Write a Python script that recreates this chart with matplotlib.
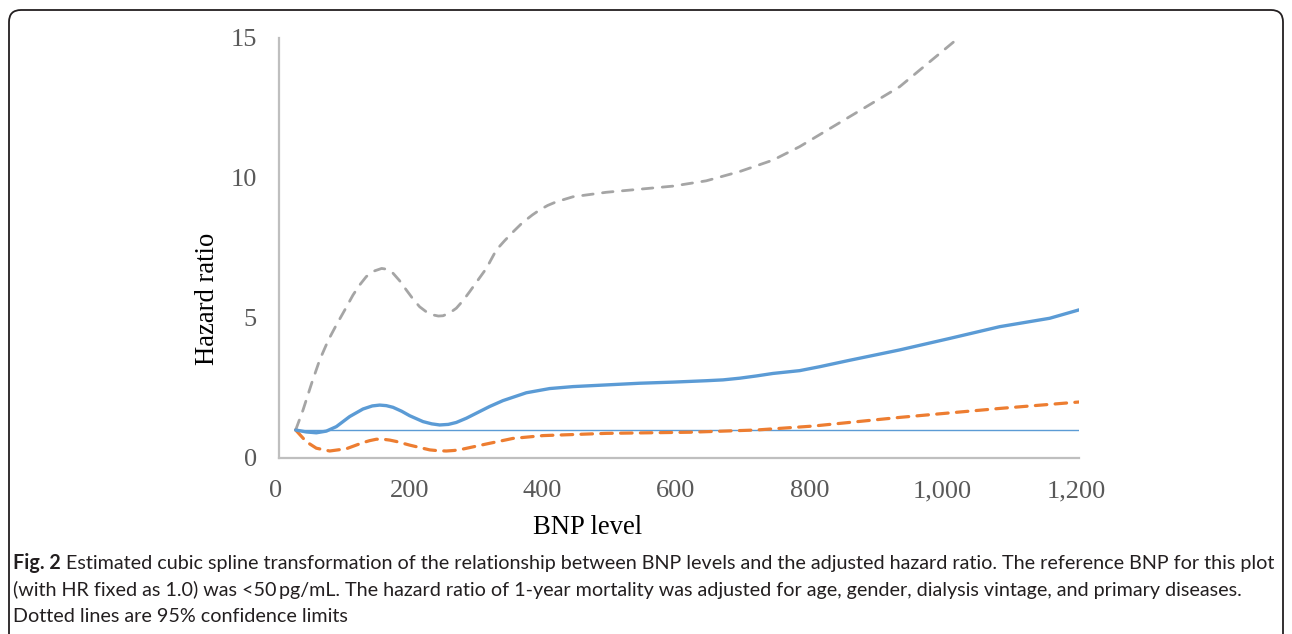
import matplotlib
matplotlib.use("Agg")
import matplotlib.pyplot as plt
from matplotlib.patches import FancyBboxPatch
from matplotlib.transforms import ScaledTranslation

# BNP level (pg/mL) and hazard ratio for the fitted spline
hr_x = [25, 41, 56, 71, 86, 106, 126, 140, 151, 161, 171, 184, 196, 216,
        229, 241, 254, 266, 281, 296, 316, 336, 371, 406, 441, 491, 541,
        591, 641, 666, 691, 716, 741, 781, 811, 856, 931, 1006, 1081,
        1156, 1200]
hr_y = [1.00, 0.93, 0.90, 0.96, 1.12, 1.48, 1.75, 1.86, 1.89, 1.87, 1.81,
        1.67, 1.51, 1.30, 1.22, 1.18, 1.20, 1.27, 1.42, 1.60, 1.84, 2.05,
        2.33, 2.48, 2.55, 2.61, 2.67, 2.71, 2.76, 2.79, 2.85, 2.93, 3.02,
        3.12, 3.26, 3.49, 3.86, 4.27, 4.69, 4.99, 5.29]

# upper 95% confidence limit
upper_x = [25, 36, 49, 61, 74, 86, 99, 111, 121, 131, 143, 154, 162, 171,
           181, 191, 201, 211, 221, 231, 239, 246, 256, 266, 276, 286, 298,
           311, 326, 338, 350, 365, 380, 391, 403, 416, 441, 491, 541, 591,
           641, 691, 741, 781, 856, 931, 1014, 1040]
upper_y = [1.00, 1.71, 2.67, 3.50, 4.21, 4.75, 5.30, 5.82, 6.18, 6.48, 6.68,
           6.77, 6.74, 6.60, 6.33, 6.00, 5.68, 5.40, 5.22, 5.11, 5.07, 5.08,
           5.18, 5.35, 5.62, 5.94, 6.34, 6.77, 7.43, 7.75, 8.05, 8.40, 8.68,
           8.86, 9.02, 9.15, 9.33, 9.49, 9.60, 9.71, 9.90, 10.23, 10.64,
           11.12, 12.19, 13.26, 14.90, 15.40]

# lower 95% confidence limit
lower_x = [25, 41, 56, 76, 101, 126, 136, 146, 156, 166, 176, 196, 226,
           239, 251, 263, 276, 311, 351, 396, 491, 616, 716, 801, 931, 1081,
           1200]
lower_y = [1.00, 0.58, 0.35, 0.25, 0.33, 0.55, 0.62, 0.67, 0.67, 0.64, 0.59,
           0.46, 0.29, 0.26, 0.25, 0.27, 0.32, 0.50, 0.70, 0.80, 0.88, 0.92,
           1.00, 1.14, 1.45, 1.77, 2.00]

# reference line at HR = 1.0
ref_x = [25, 1200]
ref_y = [1.0, 1.0]

x_ticks = [0, 200, 400, 600, 800, 1000, 1200]
x_tick_labels = ["0", "200", "400", "600", "800", "1,000", "1,200"]
y_ticks = [0, 5, 10, 15]
y_tick_labels = ["0", "5", "10", "15"]

caption_bold = "Fig. 2"
caption_lines = [
    " Estimated cubic spline transformation of the relationship between BNP levels and the adjusted hazard ratio. The reference BNP for this plot",
    "(with HR fixed as 1.0) was <50\u2009pg/mL. The hazard ratio of 1-year mortality was adjusted for age, gender, dialysis vintage, and primary diseases.",
    "Dotted lines are 95% confidence limits",
]

W, H, DPI = 1292, 634, 100
fig = plt.figure(figsize=(W / DPI, H / DPI), dpi=DPI)
fig.patch.set_facecolor("white")

# rounded frame around the figure panel (open at the bottom)
frame = FancyBboxPatch((9, -30), 1274, H - 10 + 30,
                       boxstyle="round,pad=0,rounding_size=12",
                       transform=None, facecolor="none",
                       edgecolor="#231f20", linewidth=1.3)
fig.add_artist(frame)

ax = fig.add_axes([279 / W, 1 - 458 / H, 800 / W, 420 / H])
ax.set_xlim(0, 1200)
ax.set_ylim(0, 15)

serif = ["Liberation Serif", "DejaVu Serif"]

ax.plot(ref_x, ref_y, color="#5b9bd5", lw=1.0, zorder=2)
ax.plot(upper_x, upper_y, color="#a5a5a5", lw=2.0, dashes=(3.8, 3.4),
        dash_capstyle="round", dash_joinstyle="round", zorder=3)
ax.plot(lower_x, lower_y, color="#ed7d31", lw=2.3, dashes=(3.6, 2.6),
        dash_capstyle="round", dash_joinstyle="round", zorder=3)
ax.plot(hr_x, hr_y, color="#5b9bd5", lw=2.4, solid_joinstyle="round",
        solid_capstyle="round", zorder=4)

for side in ("top", "right"):
    ax.spines[side].set_visible(False)
for side in ("left", "bottom"):
    ax.spines[side].set_color("#bfbfbf")
    ax.spines[side].set_linewidth(1.6)

ax.set_xticks(x_ticks)
ax.set_xticklabels(x_tick_labels)
ax.set_yticks(y_ticks)
ax.set_yticklabels(y_tick_labels)
ax.tick_params(axis="both", length=0, colors="#595959", labelsize=19)
ax.tick_params(axis="x", pad=16)
ax.tick_params(axis="y", pad=16)
shift = ScaledTranslation(-3 / DPI, 0, fig.dpi_scale_trans)
for lab in ax.get_xticklabels():
    lab.set_fontfamily(serif)
    lab.set_transform(lab.get_transform() + shift)
for lab in ax.get_yticklabels():
    lab.set_fontfamily(serif)

fig.text(588 / W, 1 - 527 / H, "BNP level", ha="center", va="center",
         fontsize=19.2, family=serif, color="black")
fig.text(208 / W, 1 - 299 / H, "Hazard ratio", ha="center", va="center",
         rotation=90, fontsize=19.2, family=serif, color="black")

# caption
cap_font = ["Lato", "DejaVu Sans"]
cap_size = 14.2
cap_color = "#231f20"
line_y = [563, 590, 616]
fig.canvas.draw()
renderer = fig.canvas.get_renderer()
t0 = fig.text(13 / W, 1 - line_y[0] / H, caption_bold, ha="left",
              va="center", fontsize=cap_size, family=cap_font,
              weight="bold", color=cap_color)
bb = t0.get_window_extent(renderer=renderer)
fig.text(bb.x1 / W, 1 - line_y[0] / H, caption_lines[0], ha="left",
         va="center", fontsize=cap_size, family=cap_font, color=cap_color)
for txt, yy in zip(caption_lines[1:], line_y[1:]):
    fig.text(13 / W, 1 - yy / H, txt, ha="left", va="center",
             fontsize=cap_size, family=cap_font, color=cap_color)

fig.savefig("out.png", dpi=DPI)
